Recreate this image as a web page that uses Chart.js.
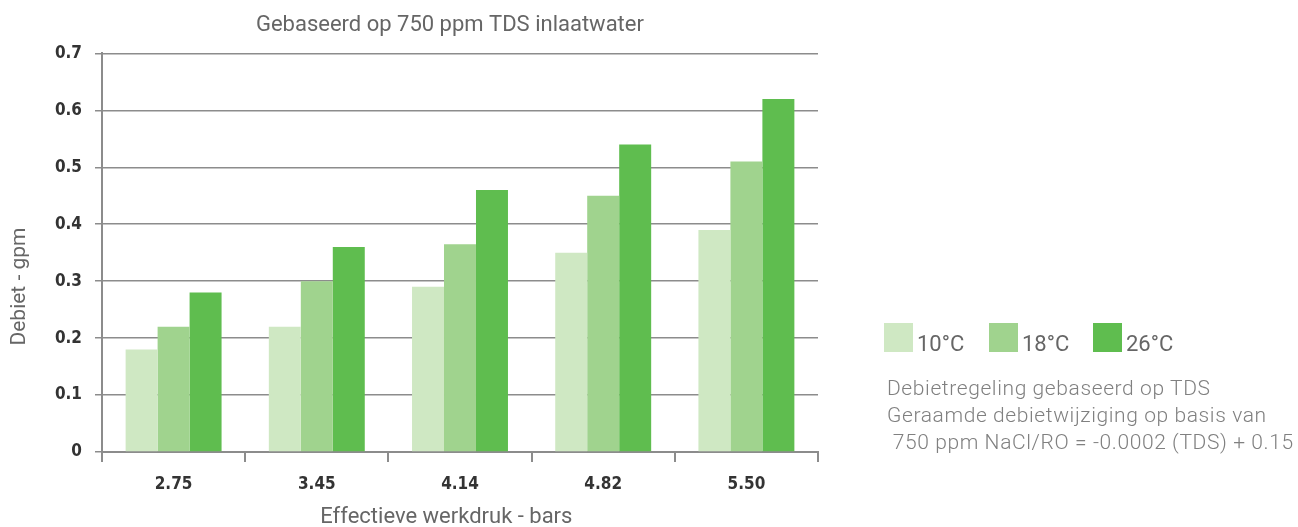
<!DOCTYPE html>
<html>
<head>
<meta charset="utf-8">
<script src="https://cdn.jsdelivr.net/npm/chart.js@4"></script>
<style>
  body { margin: 0; background: #fff; width: 1298px; height: 527px; position: relative; overflow: hidden; }
  #wrap { position: absolute; left: 0; top: 0; width: 902px; height: 527px; }
  #legend { position: absolute; left: 884px; top: 323px; font-family: Roboto, sans-serif; font-size: 22px; color: #666; }
  .item { position: absolute; top: 0; white-space: nowrap; }
  .sw { position: absolute; left: 0; top: 0; width: 29px; height: 29px; }
  .lbl { position: absolute; left: 33px; top: 10px; line-height: 22px; }
  #note { position: absolute; left: 887px; top: 375px; font-family: Roboto, sans-serif; font-weight: 300; font-size: 21px; line-height: 27px; letter-spacing: 0.6px; color: #808080; white-space: pre; }
</style>
</head>
<body>
<div id="wrap"><canvas id="chart"></canvas></div>
<div id="legend"></div>
<div id="note"></div>
<script>
  // Data
  const pressures = ['2.75', '3.45', '4.14', '4.82', '5.50'];
  const seriesNames = ['10°C', '18°C', '26°C'];
  const flow10 = [0.18, 0.22, 0.29, 0.35, 0.39];
  const flow18 = [0.22, 0.30, 0.365, 0.45, 0.51];
  const flow26 = [0.28, 0.36, 0.46, 0.54, 0.62];
  const seriesColors = ['#cfe8c3', '#a0d38e', '#5fbd4f'];
  const noteLines = [
    'Debietregeling gebaseerd op TDS',
    'Geraamde debietwijziging op basis van',
    ' 750 ppm NaCl/RO = -0.0002 (TDS) + 0.15'
  ];

  const gridColor = '#8c8c8c';
  const allSeries = [flow10, flow18, flow26];

  // Legend + note text on the right
  const legendEl = document.getElementById('legend');
  const legendOffsets = [0, 105, 209];
  seriesNames.forEach(function(name, i) {
    const item = document.createElement('div');
    item.className = 'item';
    item.style.left = legendOffsets[i] + 'px';
    item.innerHTML = '<div class="sw" style="background:' + seriesColors[i] + '"></div><div class="lbl">' + name + '</div>';
    legendEl.appendChild(item);
  });
  document.getElementById('note').textContent = noteLines.join('\n');

  const tickFont = { family: "'DejaVu Sans Condensed', 'DejaVu Sans'", size: 17, weight: 'bold' };

  const ctx = document.getElementById('chart').getContext('2d');
  new Chart(ctx, {
    type: 'bar',
    data: {
      labels: pressures,
      datasets: seriesNames.map(function(name, i) {
        return {
          label: name,
          data: allSeries[i],
          backgroundColor: seriesColors[i],
          borderWidth: 0,
          categoryPercentage: 0.67,
          barPercentage: 1.0
        };
      })
    },
    options: {
      responsive: true,
      maintainAspectRatio: false,
      animation: false,
      layout: { padding: { left: 0, right: 84, top: 0, bottom: 0 } },
      plugins: {
        legend: { display: false },
        tooltip: { enabled: false },
        title: {
          display: true,
          // leading spaces move the title right, over the middle of the plot
          text: '               Gebaseerd op 750 ppm TDS inlaatwater',
          color: '#666',
          font: { family: 'Roboto', size: 22, weight: 'normal', lineHeight: 1.2 },
          padding: { top: 12, bottom: 15 }
        }
      },
      scales: {
        x: {
          afterFit: function(scale) { scale.height = 75; },
          grid: {
            display: true,
            drawOnChartArea: false,
            drawTicks: true,
            tickLength: 10,
            color: gridColor,
            lineWidth: 2,
            offset: true
          },
          border: { display: true, color: gridColor, width: 2 },
          ticks: {
            color: '#333',
            padding: 12,
            font: tickFont
          },
          title: {
            display: true,
            // trailing spaces nudge the title a bit left, like the original
            text: 'Effectieve werkdruk - bars     ',
            color: '#666',
            font: { family: 'Roboto', size: 22, weight: 'normal', lineHeight: 0.82 },
            padding: { top: 0, bottom: 0 }
          }
        },
        y: {
          min: 0,
          max: 0.7,
          afterFit: function(scale) { scale.width = 102; },
          grid: {
            color: gridColor,
            lineWidth: 1.5,
            tickLength: 7
          },
          border: { display: true, color: gridColor, width: 2 },
          ticks: {
            stepSize: 0.1,
            color: '#333',
            padding: 13,
            font: tickFont
          },
          title: {
            display: true,
            // trailing spaces push the rotated title lower
            text: 'Debiet - gpm             ',
            color: '#666',
            font: { family: 'Roboto', size: 21, weight: 'normal', lineHeight: 1.2 },
            padding: { top: 7, bottom: 0 }
          }
        }
      }
    }
  });
</script>
</body>
</html>
